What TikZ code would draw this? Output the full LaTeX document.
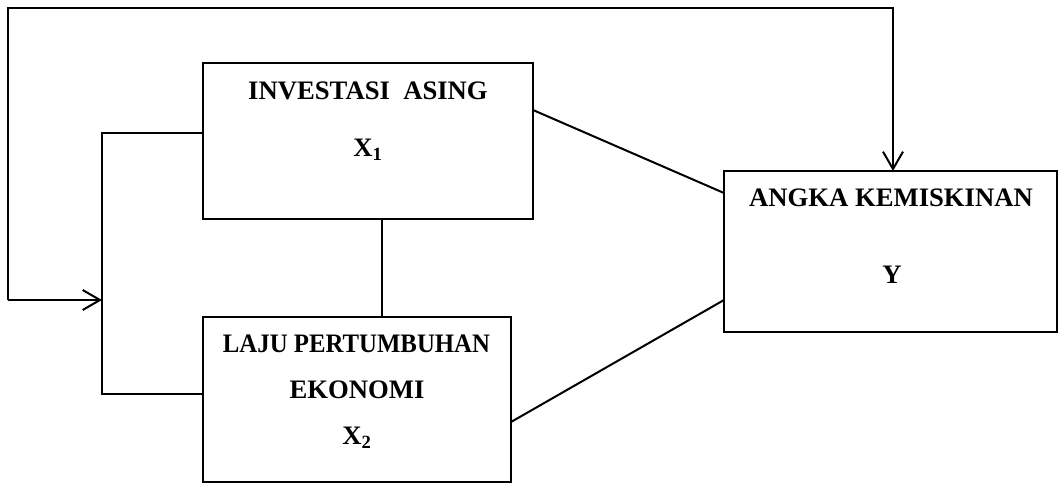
\documentclass[tikz,border=0pt]{standalone}
\usepackage{fontspec}
\setmainfont{Liberation Serif}
\usetikzlibrary{arrows.meta}
\def\pxu{0.75pt}
\begin{document}
\begin{tikzpicture}[x=0.75pt,y=-0.75pt,
  box/.style={draw,line width=1.5pt,outer sep=0pt,inner sep=0pt,rectangle},
  lbl/.style={anchor=base,inner sep=0pt,font=\fontsize{20}{24}\selectfont\bfseries},
  conn/.style={line width=1.5pt},
  arr/.style={line width=1.5pt,-{Straight Barb[length=13pt,width=15pt,line width=1.5pt]}}]
\useasboundingbox (0,0) rectangle (1058,483);
% boxes
\node[box,minimum width=330*\pxu,minimum height=156*\pxu] (x1) at (368,141) {};
\node[box,minimum width=308*\pxu,minimum height=165*\pxu] (x2) at (357,399.5) {};
\node[box,minimum width=333*\pxu,minimum height=161*\pxu] (y) at (890.5,251.5) {};
% texts
\node[lbl] (t1) at (368,99) {INVESTASI\ \ ASING};
\node[lbl] (t1b) at (368,156) {X\textsubscript{1}};
\node[lbl] (t2) at (356.5,352) {\scalebox{0.93}[1]{LAJU PERTUMBUHAN}};
\node[lbl] (t2b) at (357,398) {EKONOMI};
\node[lbl] (t2c) at (357,444) {X\textsubscript{2}};
\node[lbl] (t3) at (891,206) {ANGKA KEMISKINAN};
\node[lbl] (t3b) at (892,283) {Y};
% coordinates
\coordinate (loop) at (8,300);
\coordinate (brk) at (102,300);
\coordinate (btop) at (102,133);
\coordinate (bbot) at (102,394);
\coordinate (ytop) at (893,171);
% connectors
\draw[arr] (loop) -- (8,7.5) -| (ytop);
\draw[arr] (loop) -- (brk);
\draw[conn] (x1.west |- btop) -- (btop) -- (bbot) -- (x2.west |- bbot);
\draw[conn] (382,219) -- (382,317);
\draw[conn] (533,110) -- (724,193);
\draw[conn] (511,422) -- (724,300);
\end{tikzpicture}
\end{document}
